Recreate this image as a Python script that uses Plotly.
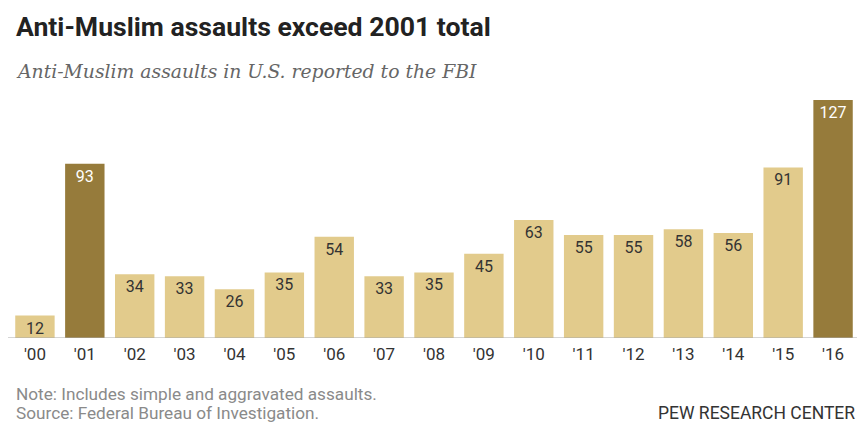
import plotly.graph_objects as go

years = ["'00", "'01", "'02", "'03", "'04", "'05", "'06", "'07", "'08", "'09",
         "'10", "'11", "'12", "'13", "'14", "'15", "'16"]
assaults = [12, 93, 34, 33, 26, 35, 54, 33, 35, 45, 63, 55, 55, 58, 56, 91, 127]
highlight = ["'01", "'16"]

LIGHT = "#E2CB8C"
DARK = "#967B3B"
colors = [DARK if y in highlight else LIGHT for y in years]
text_colors = ["white" if y in highlight else "#333333" for y in years]

fig = go.Figure(go.Bar(
    x=years, y=assaults,
    marker=dict(color=colors, line=dict(width=0)),
    text=[str(v) for v in assaults],
    textposition="inside",
    insidetextanchor="end",
    textangle=0,
    textfont=dict(family="Roboto, Arial", size=16, color=text_colors),
    width=0.79,
    hoverinfo="skip",
))

T, B = 85, 338  # plot area top/bottom in pixels
H = B - T

def ypix(p):
    return 1 - (p - T) / float(H)

def xpix(p):
    return (p - 10) / 848.0

fig.update_layout(
    width=859, height=423,
    margin=dict(l=10, r=1, t=T, b=423 - B),
    paper_bgcolor="white", plot_bgcolor="white",
    showlegend=False,
    uniformtext=dict(minsize=16, mode="show"),
    xaxis=dict(
        type="category",
        showgrid=False, zeroline=False,
        showline=False,
        ticks="", ticklabelstandoff=4,
        tickfont=dict(family="Roboto, Arial", size=17, color="#333333"),
        fixedrange=True,
    ),
    yaxis=dict(range=[0, 135], visible=False, showgrid=False, zeroline=False, fixedrange=True),
    shapes=[dict(type="line", xref="paper", yref="y", x0=xpix(8), x1=xpix(857), y0=0, y1=0,
                 line=dict(color="#AAAAAA", width=1))],
    annotations=[
        dict(text="<b>Anti-Muslim assaults exceed 2001 total</b>", xref="paper", yref="paper",
             x=xpix(14), y=ypix(26), xanchor="left", yanchor="middle", showarrow=False,
             font=dict(family="Roboto, Arial", size=26.6, color="#222222")),
        dict(text="<i>Anti-Muslim assaults in U.S. reported to the FBI</i>", xref="paper", yref="paper",
             x=xpix(14), y=ypix(71), xanchor="left", yanchor="middle", showarrow=False,
             font=dict(family="DejaVu Serif, Georgia, serif", size=18.8, color="#666666")),
        dict(text="Note: Includes simple and aggravated assaults.", xref="paper", yref="paper",
             x=xpix(14), y=ypix(394), xanchor="left", yanchor="middle", showarrow=False,
             font=dict(family="Roboto, Arial", size=17.2, color="#8A8A8A")),
        dict(text="Source: Federal Bureau of Investigation.", xref="paper", yref="paper",
             x=xpix(14), y=ypix(413), xanchor="left", yanchor="middle", showarrow=False,
             font=dict(family="Roboto, Arial", size=17.2, color="#8A8A8A")),
        dict(text="PEW RESEARCH CENTER", xref="paper", yref="paper",
             x=xpix(857), y=ypix(413), xanchor="right", yanchor="middle", showarrow=False,
             font=dict(family="Roboto, Arial", size=17.5, color="#333333")),
    ],
)

fig.write_html("out.html", config={"displayModeBar": False},
               post_script='document.body.style.margin="0";')
